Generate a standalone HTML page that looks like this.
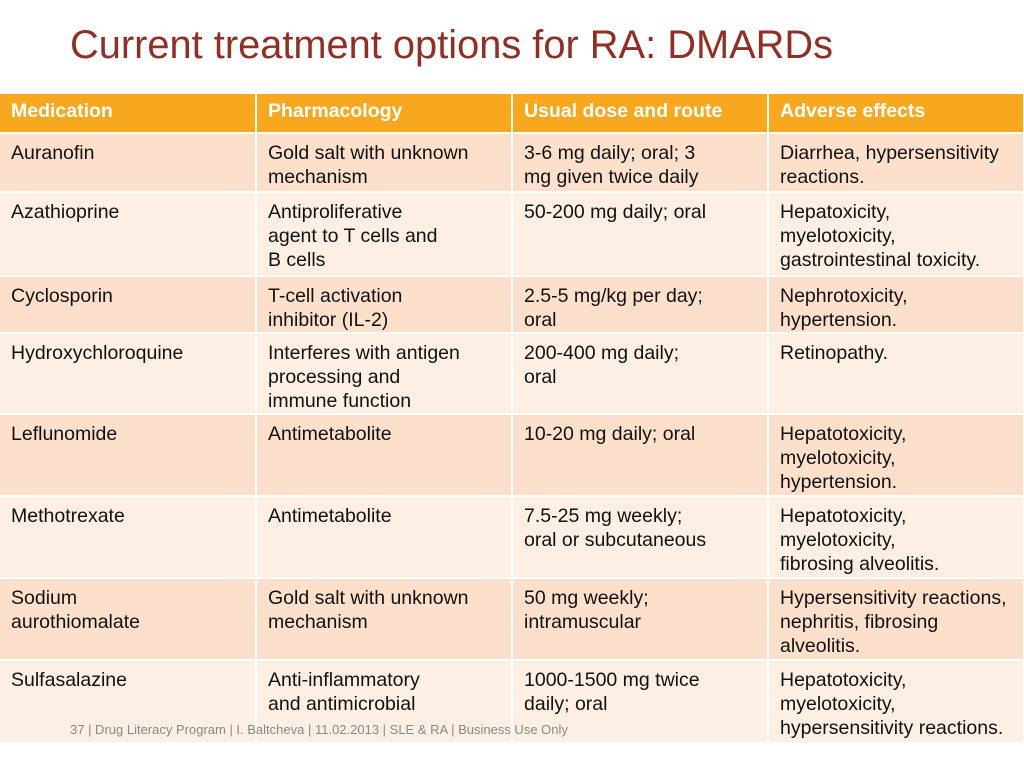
<!DOCTYPE html>
<html><head><meta charset="utf-8"><style>
body{margin:0;width:1024px;height:768px;background:#fff;position:relative;overflow:hidden;font-family:"Liberation Sans",Arial,sans-serif;}
#title{position:absolute;left:70px;top:21px;font-size:39.8px;color:#8f2f25;white-space:nowrap;line-height:48px;}
.c{position:absolute;box-sizing:border-box;padding:7px 0 0 11px;font-size:19.5px;line-height:24px;color:#111;white-space:nowrap;}
.h{background:#f8a81e;color:#fff;font-weight:bold;padding-top:5px;font-size:19.5px;}
.o{background:#fce0cb;}
.e{background:#fdefe4;}
#foot{position:absolute;left:70px;top:722px;font-size:13px;color:#888;white-space:nowrap;}
</style></head><body>
<div id="title">Current treatment options for RA: DMARDs</div>
<div id="tbl"></div>
<div id="foot">37 | Drug Literacy Program | I. Baltcheva | 11.02.2013 | SLE &amp; RA | Business Use Only</div>
<script>
const headers=["Medication","Pharmacology","Usual dose and route","Adverse effects"];
const rows=[
["Auranofin","Gold salt with unknown<br>mechanism","3-6 mg daily; oral; 3<br>mg given twice daily","Diarrhea, hypersensitivity<br>reactions."],
["Azathioprine","Antiproliferative<br>agent to T cells and<br>B cells","50-200 mg daily; oral","Hepatoxicity,<br>myelotoxicity,<br>gastrointestinal toxicity."],
["Cyclosporin","T-cell activation<br>inhibitor (IL-2)","2.5-5 mg/kg per day;<br>oral","Nephrotoxicity,<br>hypertension."],
["Hydroxychloroquine","Interferes with antigen<br>processing and<br>immune function","200-400 mg daily;<br>oral","Retinopathy."],
["Leflunomide","Antimetabolite","10-20 mg daily; oral","Hepatotoxicity,<br>myelotoxicity,<br>hypertension."],
["Methotrexate","Antimetabolite","7.5-25 mg weekly;<br>oral or subcutaneous","Hepatotoxicity,<br>myelotoxicity,<br>fibrosing alveolitis."],
["Sodium<br>aurothiomalate","Gold salt with unknown<br>mechanism","50 mg weekly;<br>intramuscular","Hypersensitivity reactions,<br>nephritis, fibrosing<br>alveolitis."],
["Sulfasalazine","Anti-inflammatory<br>and antimicrobial","1000-1500 mg twice<br>daily; oral","Hepatotoxicity,<br>myelotoxicity,<br>hypersensitivity reactions."]
];
const colX=[0,257,513,769], colW=[255,254,254,254];
const rowY=[134,193,277,334,415,497,579,661], rowH=[57,82,55,79,80,80,80,81];
const t=document.getElementById('tbl');
headers.forEach((h,i)=>{
 const d=document.createElement('div');
 d.className='c h';
 d.style.cssText=`left:${colX[i]}px;top:94px;width:${colW[i]}px;height:38px;`;
 d.innerHTML=h;
 
 
 t.appendChild(d);
});
rows.forEach((r,ri)=>{
 r.forEach((txt,ci)=>{
  const d=document.createElement('div');
  d.className='c '+(ri%2?'e':'o');
  d.style.cssText=`left:${colX[ci]}px;top:${rowY[ri]}px;width:${colW[ci]}px;height:${rowH[ri]}px;`;
  d.innerHTML=txt;
  
  
  t.appendChild(d);
 });
});
</script>
</body></html>
